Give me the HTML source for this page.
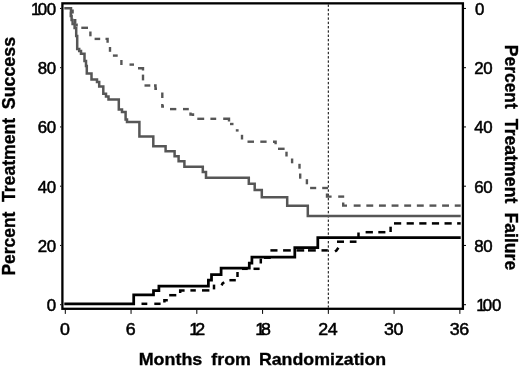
<!DOCTYPE html>
<html><head><meta charset="utf-8"><title>Chart</title>
<style>
html,body{margin:0;padding:0;background:#fff;}
body{width:520px;height:367px;overflow:hidden;}
svg{display:block;filter:blur(0.25px);}
text{font-family:"Liberation Sans",sans-serif;fill:#000;}
.tk{font-size:16.2px;stroke:#000;stroke-width:0.5px;letter-spacing:-0.3px;}
.lb{font-size:17.6px;font-weight:bold;word-spacing:2.7px;stroke:#000;stroke-width:0.35px;}
</style></head><body>
<svg width="520" height="367" viewBox="0 0 520 367">
<rect x="0" y="0" width="520" height="367" fill="#fff"/>
<rect x="62.4" y="3.35" width="400.5" height="305.45" fill="none" stroke="#000" stroke-width="2.3"/>
<line x1="60" x2="61.3" y1="304.70" y2="304.70" stroke="#000" stroke-width="1"/><line x1="464" x2="466" y1="304.70" y2="304.70" stroke="#000" stroke-width="1"/>
<line x1="60" x2="61.3" y1="245.45" y2="245.45" stroke="#000" stroke-width="1"/><line x1="464" x2="466" y1="245.45" y2="245.45" stroke="#000" stroke-width="1"/>
<line x1="60" x2="61.3" y1="186.20" y2="186.20" stroke="#000" stroke-width="1"/><line x1="464" x2="466" y1="186.20" y2="186.20" stroke="#000" stroke-width="1"/>
<line x1="60" x2="61.3" y1="126.95" y2="126.95" stroke="#000" stroke-width="1"/><line x1="464" x2="466" y1="126.95" y2="126.95" stroke="#000" stroke-width="1"/>
<line x1="60" x2="61.3" y1="67.70" y2="67.70" stroke="#000" stroke-width="1"/><line x1="464" x2="466" y1="67.70" y2="67.70" stroke="#000" stroke-width="1"/>
<line x1="60" x2="61.3" y1="8.45" y2="8.45" stroke="#000" stroke-width="1"/><line x1="464" x2="466" y1="8.45" y2="8.45" stroke="#000" stroke-width="1"/>
<line x1="65.30" x2="65.30" y1="309.9" y2="313.9" stroke="#000" stroke-width="1"/>
<line x1="131.06" x2="131.06" y1="309.9" y2="313.9" stroke="#000" stroke-width="1"/>
<line x1="196.82" x2="196.82" y1="309.9" y2="313.9" stroke="#000" stroke-width="1"/>
<line x1="262.58" x2="262.58" y1="309.9" y2="313.9" stroke="#000" stroke-width="1"/>
<line x1="328.34" x2="328.34" y1="309.9" y2="313.9" stroke="#000" stroke-width="1"/>
<line x1="394.10" x2="394.10" y1="309.9" y2="313.9" stroke="#000" stroke-width="1"/>
<line x1="459.86" x2="459.86" y1="309.9" y2="313.9" stroke="#000" stroke-width="1"/>
<line x1="328.3" x2="328.3" y1="4.5" y2="307.6" stroke="#000" stroke-width="1.0" stroke-dasharray="2.4 1.9"/>
<g fill="none" stroke="#565656" stroke-width="2.4"><polyline points="72.6,9.5 72.6,13.5"/><polyline points="75.2,19 75.2,23.5"/><polyline points="76.6,23.5 76.6,26.5"/><polyline points="81.3,27.8 88.0,27.8"/><polyline points="90.4,31.5 90.4,36.3"/><polyline points="94.6,38.9 100.2,38.9"/><polyline points="105.5,38.9 107.6,38.9 107.6,42.8"/><polyline points="110,47 110,51.8"/><polyline points="112.9,55.6 117.7,55.6"/><polyline points="121.4,60 121.4,65"/><polyline points="129.5,64.6 134,64.6"/><polyline points="138,68.2 143,68.2 143,70.4"/><polyline points="143,74.6 143,80.4"/><polyline points="144.5,85.5 150.3,85.5"/><polyline points="154,85.5 155.5,85.5 155.5,88.8 157,88.8"/><polyline points="162.3,92.5 162.3,98"/><polyline points="162.3,104 162.3,106.5 164,106.5"/><polyline points="170,109.1 176.3,109.1"/><polyline points="183,109.1 188.8,109.1"/><polyline points="190.5,112.5 190.5,114.5 193,114.5 193,116"/><polyline points="197.3,118.8 204.2,118.8"/><polyline points="210.4,118.8 216.2,118.8"/><polyline points="223.2,118.8 229,118.8 229,121.5"/><polyline points="230,124 233.5,124"/><polyline points="235.8,130.4 238.6,130.4"/><polyline points="242,134.8 242,139.5"/><polyline points="247.5,141.7 254,141.7"/><polyline points="260.3,141.7 266.6,141.7"/><polyline points="273,141.7 275.6,141.7 275.6,144.2"/><polyline points="278,148.8 284.6,148.8"/><polyline points="286.5,151.7 286.5,156.5"/><polyline points="292.1,158.5 292.1,163.3"/><polyline points="299.5,163.8 299.5,168.7"/><polyline points="300.2,173.5 300.2,178.7"/><polyline points="306.9,179.2 306.9,184.3"/><polyline points="310.1,188 316.2,188"/><polyline points="322.2,188 328,188"/><polyline points="327,193.5 327,196.6 331.6,196.6"/><polyline points="338.2,196.6 344.2,196.6"/><polyline points="343.2,202.5 343.2,205.6 347,205.6"/><polyline points="353.7,205.6 360.59999999999997,205.6"/><polyline points="366.33,205.6 373.22999999999996,205.6"/><polyline points="378.96,205.6 385.85999999999996,205.6"/><polyline points="391.59,205.6 398.48999999999995,205.6"/><polyline points="404.21999999999997,205.6 411.11999999999995,205.6"/><polyline points="416.84999999999997,205.6 423.74999999999994,205.6"/><polyline points="429.47999999999996,205.6 436.37999999999994,205.6"/><polyline points="442.10999999999996,205.6 449.00999999999993,205.6"/><polyline points="454.73999999999995,205.6 460.7,205.6"/></g>
<path d="M64.3,8.2 L71,8.2 L71,13 L70.8,13 L70.8,16 L71.6,16 L71.6,20 L72.6,20 L72.6,24 L74.6,24 L74.6,28 L76.2,28 L76.2,36 L77.2,36 L77.2,49 L79.2,49 L79.2,51 L81,51 L81,53.7 L84.5,53.7 L84.5,61 L86,61 L86,66 L86.8,66 L86.8,73.5 L91.5,73.5 L91.5,79.5 L97,79.5 L97,82 L99.2,82 L99.2,86.5 L103.3,86.5 L103.3,93.7 L106,93.7 L106,96.5 L108.5,96.5 L108.5,99.6 L118.8,99.6 L118.8,109.5 L122,109.5 L122,112 L125.6,112 L125.6,119.6 L127,119.6 L127,122 L139.4,122 L139.4,136.4 L153.3,136.4 L153.3,146.3 L165.6,146.3 L165.6,151.3 L174.6,151.3 L174.6,156.3 L178.6,156.3 L178.6,161.3 L184.4,161.3 L184.4,166.8 L202.8,166.8 L202.8,172 L206,172 L206,177.7 L248.8,177.7 L248.8,183.7 L254.7,183.7 L254.7,190 L261.8,190 L261.8,197.2 L287.2,197.2 L287.2,205.8 L307.8,205.8 L307.8,215.9 L460.7,215.9" fill="none" stroke="#565656" stroke-width="2.5" stroke-linejoin="miter"/>
<g fill="none" stroke="#000" stroke-width="2.5"><polyline points="141.5,303.8 147.3,303.8"/><polyline points="154.3,303.8 160.6,303.8"/><polyline points="164.4,302.4 164.4,300.2 167.8,300.2"/><polyline points="169.2,295.2 176.3,295.2"/><polyline points="180.2,293 180.2,290.4 184.6,290.4"/><polyline points="190.4,290.4 195.8,290.4"/><polyline points="202,290.4 209.4,290.4"/><polyline points="214,284.6 214,289.4"/><polyline points="221.6,285.4 222.6,283.4 224.2,282.2"/><polyline points="229.4,280.2 235.8,280.2"/><polyline points="237.5,272 237.5,277"/><polyline points="242,268.8 247.7,268.8"/><polyline points="253.5,268.8 259.6,268.8"/><polyline points="260.8,258.6 260.8,263.5"/><polyline points="264,257.7 270.8,257.7"/><polyline points="270.4,250.4 277.5,250.4"/><polyline points="283.1,250.4 290.8,250.4"/><polyline points="296.5,250.4 304.2,250.4"/><polyline points="308,250.4 315.8,250.4"/><polyline points="321.5,250.4 327.8,250.4"/><polyline points="335.0,251.6 336.4,250.6 338.4,247.8"/><polyline points="337,241.7 344,241.7"/><polyline points="349.8,241.7 356.5,241.7"/><polyline points="358.5,232.5 358.5,237.5"/><polyline points="365.6,232.2 372.9,232.2"/><polyline points="378.3,232.2 385.4,232.2"/><polyline points="390.6,226.7 390.6,232"/><polyline points="394.0,223.4 401.2,223.4"/><polyline points="406.63,223.4 413.83,223.4"/><polyline points="419.26,223.4 426.46,223.4"/><polyline points="431.89,223.4 439.09,223.4"/><polyline points="444.52,223.4 451.71999999999997,223.4"/><polyline points="457.15,223.4 460.7,223.4"/></g>
<path d="M64.3,303.8 L133.7,303.8 L133.7,294.8 L153.5,294.8 L153.5,290.6 L158.9,290.6 L158.9,286 L208.4,286 L208.4,280.2 L211.5,280.2 L211.5,274.5 L221.1,274.5 L221.1,268.2 L249.3,268.2 L249.3,263 L251.9,263 L251.9,257 L294.8,257 L294.8,247.6 L317.8,247.6 L317.8,237.6 L460.7,237.6" fill="none" stroke="#000" stroke-width="2.75" stroke-linejoin="miter"/>
<text class="tk" transform="translate(55.80,311.00) scale(1.04,1)" text-anchor="end">0</text>
<text class="tk" transform="translate(55.80,251.75) scale(1.04,1)" text-anchor="end">20</text>
<text class="tk" transform="translate(55.80,192.50) scale(1.04,1)" text-anchor="end">40</text>
<text class="tk" transform="translate(55.80,133.25) scale(1.04,1)" text-anchor="end">60</text>
<text class="tk" transform="translate(55.80,74.00) scale(1.04,1)" text-anchor="end">80</text>
<text class="tk" transform="translate(55.80,14.75) scale(1.04,1)" text-anchor="end"><tspan>1</tspan><tspan dx="-2.3">00</tspan></text>
<text class="tk" transform="translate(475.00,14.75) scale(1.04,1)" text-anchor="start">0</text>
<text class="tk" transform="translate(474.30,74.00) scale(1.04,1)" text-anchor="start">20</text>
<text class="tk" transform="translate(474.30,133.25) scale(1.04,1)" text-anchor="start">40</text>
<text class="tk" transform="translate(474.30,192.50) scale(1.04,1)" text-anchor="start">60</text>
<text class="tk" transform="translate(474.30,251.75) scale(1.04,1)" text-anchor="start">80</text>
<text class="tk" transform="translate(476.20,311.00) scale(1.04,1)" text-anchor="start"><tspan>1</tspan><tspan dx="-2.3">00</tspan></text>
<text class="tk" transform="translate(64.70,335.40) scale(1.1,1)" text-anchor="middle">0</text>
<text class="tk" transform="translate(130.46,335.40) scale(1.1,1)" text-anchor="middle">6</text>
<text class="tk" transform="translate(197.12,335.40) scale(1.1,1)" text-anchor="middle"><tspan>1</tspan><tspan dx="-3.3">2</tspan></text>
<text class="tk" transform="translate(262.88,335.40) scale(1.1,1)" text-anchor="middle"><tspan>1</tspan><tspan dx="-3.3">8</tspan></text>
<text class="tk" transform="translate(327.74,335.40) scale(1.1,1)" text-anchor="middle">24</text>
<text class="tk" transform="translate(393.50,335.40) scale(1.1,1)" text-anchor="middle">30</text>
<text class="tk" transform="translate(459.26,335.40) scale(1.1,1)" text-anchor="middle">36</text>
<text class="lb" transform="translate(138.7,365.4) scale(1,0.94)" textLength="63.6" lengthAdjust="spacingAndGlyphs">Months</text>
<text class="lb" transform="translate(211.3,365.4) scale(1,0.94)" textLength="39.5" lengthAdjust="spacingAndGlyphs">from</text>
<text class="lb" transform="translate(258.9,365.4) scale(1,0.94)" textLength="127.3" lengthAdjust="spacingAndGlyphs">Randomization</text>
<text class="lb" transform="translate(14.5,275.6) rotate(-90) scale(1,0.99)" textLength="64.0" lengthAdjust="spacingAndGlyphs">Percent</text>
<text class="lb" transform="translate(14.5,202.0) rotate(-90) scale(1,0.99)" textLength="84.0" lengthAdjust="spacingAndGlyphs">Treatment</text>
<text class="lb" transform="translate(14.5,109.2) rotate(-90) scale(1,0.99)" textLength="72.3" lengthAdjust="spacingAndGlyphs">Success</text>
<text class="lb" transform="translate(505.4,44.8) rotate(90) scale(1,0.99)" textLength="64.0" lengthAdjust="spacingAndGlyphs">Percent</text>
<text class="lb" transform="translate(505.4,118.8) rotate(90) scale(1,0.99)" textLength="84.6" lengthAdjust="spacingAndGlyphs">Treatment</text>
<text class="lb" transform="translate(505.4,212.6) rotate(90) scale(1,0.99)" textLength="57.6" lengthAdjust="spacingAndGlyphs">Failure</text>
</svg></body></html>
